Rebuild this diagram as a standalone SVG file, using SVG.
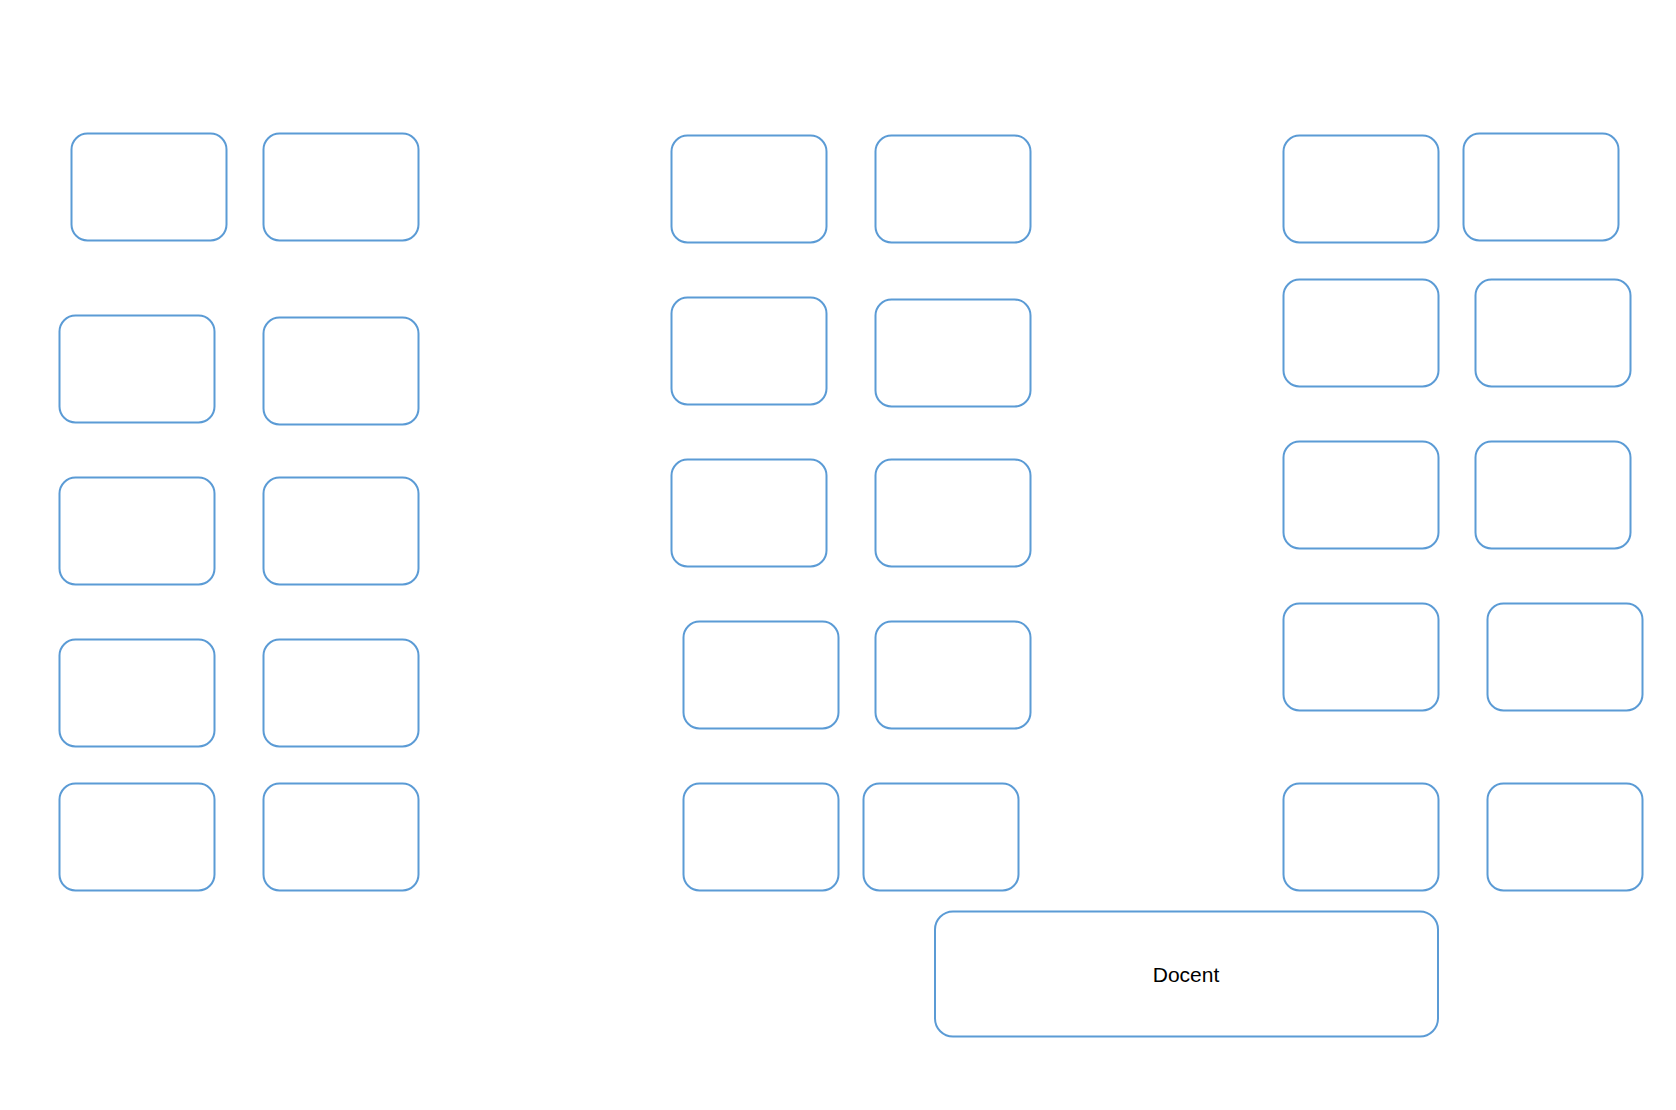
<svg xmlns="http://www.w3.org/2000/svg" width="1676" height="1110" viewBox="0 0 1676 1110">
<style>
.desk{fill:#ffffff;stroke:#5B9BD5;stroke-width:2}
.lbl{font-family:"Liberation Sans",Arial,sans-serif;font-size:21px;fill:#000000;text-anchor:middle}
</style>
<rect x="0" y="0" width="1676" height="1110" fill="#ffffff"/>
<g id="connectors"></g>
<g id="left-group">
<g id="desk-L1a"><rect class="desk" x="71.5" y="133.5" width="155" height="107" rx="16"/></g>
<g id="desk-L1b"><rect class="desk" x="263.5" y="133.5" width="155" height="107" rx="16"/></g>
<g id="desk-L2a"><rect class="desk" x="59.5" y="315.5" width="155" height="107" rx="16"/></g>
<g id="desk-L2b"><rect class="desk" x="263.5" y="317.5" width="155" height="107" rx="16"/></g>
<g id="desk-L3a"><rect class="desk" x="59.5" y="477.5" width="155" height="107" rx="16"/></g>
<g id="desk-L3b"><rect class="desk" x="263.5" y="477.5" width="155" height="107" rx="16"/></g>
<g id="desk-L4a"><rect class="desk" x="59.5" y="639.5" width="155" height="107" rx="16"/></g>
<g id="desk-L4b"><rect class="desk" x="263.5" y="639.5" width="155" height="107" rx="16"/></g>
<g id="desk-L5a"><rect class="desk" x="59.5" y="783.5" width="155" height="107" rx="16"/></g>
<g id="desk-L5b"><rect class="desk" x="263.5" y="783.5" width="155" height="107" rx="16"/></g>
</g>
<g id="middle-group">
<g id="desk-M1a"><rect class="desk" x="671.5" y="135.5" width="155" height="107" rx="16"/></g>
<g id="desk-M1b"><rect class="desk" x="875.5" y="135.5" width="155" height="107" rx="16"/></g>
<g id="desk-M2a"><rect class="desk" x="671.5" y="297.5" width="155" height="107" rx="16"/></g>
<g id="desk-M2b"><rect class="desk" x="875.5" y="299.5" width="155" height="107" rx="16"/></g>
<g id="desk-M3a"><rect class="desk" x="671.5" y="459.5" width="155" height="107" rx="16"/></g>
<g id="desk-M3b"><rect class="desk" x="875.5" y="459.5" width="155" height="107" rx="16"/></g>
<g id="desk-M4a"><rect class="desk" x="683.5" y="621.5" width="155" height="107" rx="16"/></g>
<g id="desk-M4b"><rect class="desk" x="875.5" y="621.5" width="155" height="107" rx="16"/></g>
<g id="desk-M5a"><rect class="desk" x="683.5" y="783.5" width="155" height="107" rx="16"/></g>
<g id="desk-M5b"><rect class="desk" x="863.5" y="783.5" width="155" height="107" rx="16"/></g>
</g>
<g id="right-group">
<g id="desk-R1a"><rect class="desk" x="1283.5" y="135.5" width="155" height="107" rx="16"/></g>
<g id="desk-R1b"><rect class="desk" x="1463.5" y="133.5" width="155" height="107" rx="16"/></g>
<g id="desk-R2a"><rect class="desk" x="1283.5" y="279.5" width="155" height="107" rx="16"/></g>
<g id="desk-R2b"><rect class="desk" x="1475.5" y="279.5" width="155" height="107" rx="16"/></g>
<g id="desk-R3a"><rect class="desk" x="1283.5" y="441.5" width="155" height="107" rx="16"/></g>
<g id="desk-R3b"><rect class="desk" x="1475.5" y="441.5" width="155" height="107" rx="16"/></g>
<g id="desk-R4a"><rect class="desk" x="1283.5" y="603.5" width="155" height="107" rx="16"/></g>
<g id="desk-R4b"><rect class="desk" x="1487.5" y="603.5" width="155" height="107" rx="16"/></g>
<g id="desk-R5a"><rect class="desk" x="1283.5" y="783.5" width="155" height="107" rx="16"/></g>
<g id="desk-R5b"><rect class="desk" x="1487.5" y="783.5" width="155" height="107" rx="16"/></g>
</g>
<g id="docent">
<rect class="desk" x="935" y="911.5" width="503" height="125" rx="18"/>
<text class="lbl" x="1186" y="981.5">Docent</text>
</g>
</svg>
